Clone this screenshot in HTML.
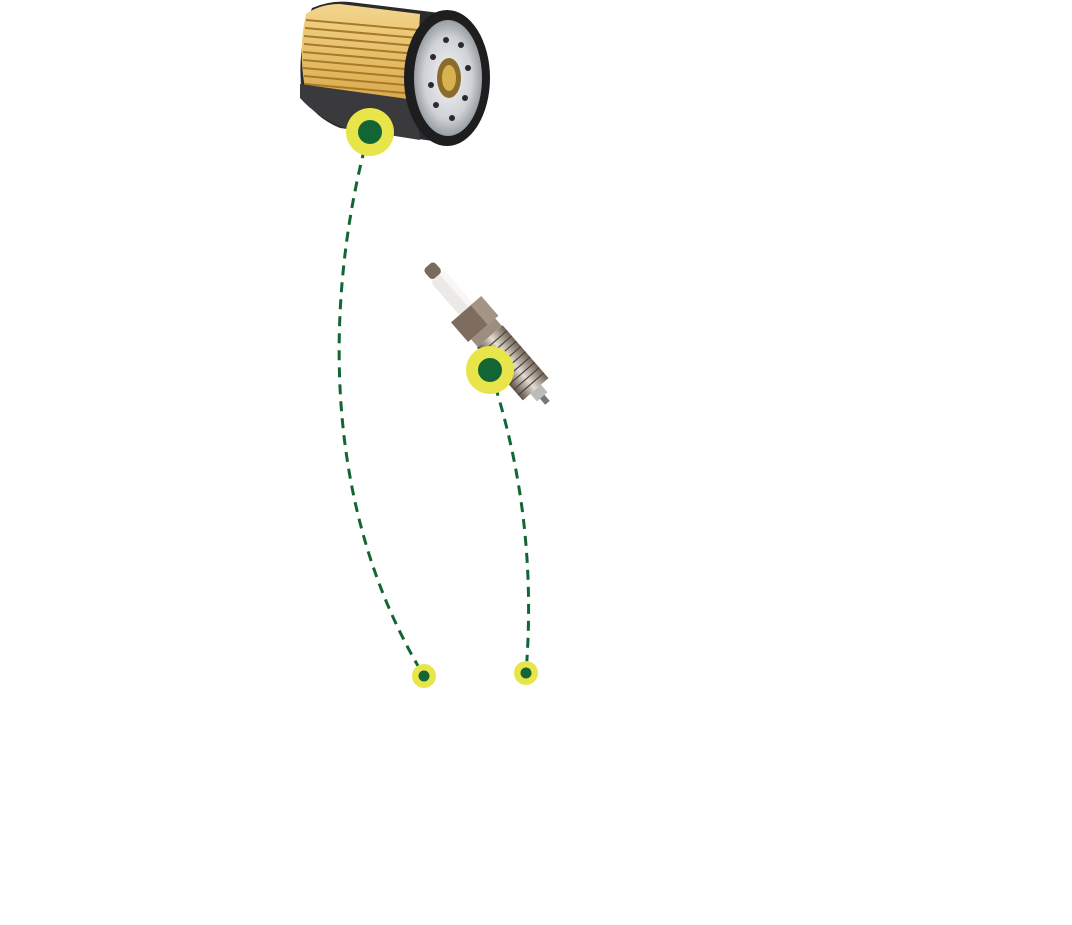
<!DOCTYPE html>
<html><head><style>html,body{margin:0;padding:0;background:#fff;width:1072px;height:925px;overflow:hidden}</style></head>
<body>
<svg width="1072" height="925" viewBox="0 0 1072 925" xmlns="http://www.w3.org/2000/svg">
<defs>
<linearGradient id="fin" x1="0" y1="0" x2="0" y2="1">
<stop offset="0" stop-color="#f3d58c"/><stop offset="1" stop-color="#d9a94a"/></linearGradient>
<radialGradient id="cap" cx="0.5" cy="0.5" r="0.5">
<stop offset="0" stop-color="#f4f4f6"/><stop offset="0.7" stop-color="#cfd2d6"/><stop offset="1" stop-color="#9a9ea3"/></radialGradient>
<linearGradient id="thr" x1="0" y1="0" x2="0" y2="1">
<stop offset="0" stop-color="#6d5f52"/><stop offset="0.5" stop-color="#e4dcd2"/><stop offset="1" stop-color="#5c5046"/></linearGradient>
</defs>
<path d="M312 8 Q330 0 350 2 L448 14 L440 142 L340 128 Q315 118 302 95 Q296 50 312 8Z" fill="#2b2b2d"/>
<path d="M306 14 Q320 4 340 4 L420 14 L415 104 L305 88 Q298 50 306 14Z" fill="url(#fin)"/>
<g stroke="#a87a28" stroke-width="2">
<line x1="306" y1="20" x2="418" y2="30"/><line x1="305" y1="28" x2="418" y2="38"/><line x1="304" y1="36" x2="417" y2="46"/><line x1="304" y1="44" x2="417" y2="54"/><line x1="303" y1="52" x2="417" y2="62"/><line x1="303" y1="60" x2="416" y2="70"/><line x1="303" y1="68" x2="416" y2="78"/><line x1="304" y1="76" x2="416" y2="86"/><line x1="304" y1="84" x2="415" y2="94"/></g>
<path d="M300 84 L415 100 L420 140 L345 128 Q318 118 300 98Z" fill="#3a3a3d"/>
<ellipse cx="447" cy="78" rx="43" ry="68" fill="#1e1e20"/>
<ellipse cx="448" cy="78" rx="34" ry="58" fill="url(#cap)"/>
<ellipse cx="449" cy="78" rx="12" ry="20" fill="#8a6d2d"/>
<ellipse cx="449" cy="78" rx="7" ry="13" fill="#d7b24e"/>
<g fill="#2a2a2e"><circle cx="446" cy="40" r="3"/><circle cx="433" cy="57" r="3"/><circle cx="431" cy="85" r="3"/><circle cx="436" cy="105" r="3"/><circle cx="452" cy="118" r="3"/><circle cx="465" cy="98" r="3"/><circle cx="468" cy="68" r="3"/><circle cx="461" cy="45" r="3"/></g>
<g transform="translate(432,270) rotate(49)">
<rect x="-6" y="-7" width="14" height="14" rx="4" fill="#7a6a5c"/>
<rect x="8" y="-9" width="45" height="18" rx="4" fill="#eceae6"/>
<rect x="8" y="-9" width="45" height="6" fill="#f8f7f5"/>
<rect x="52" y="-20" width="26" height="40" fill="#7e6d5e"/>
<rect x="52" y="-20" width="26" height="14" fill="#a59585"/>
<rect x="78" y="-16" width="10" height="32" fill="#9b8d80"/>
<rect x="88" y="-17" width="70" height="34" fill="url(#thr)"/>
<g stroke="#4d433b" stroke-width="1.2"><line x1="95" y1="-17" x2="95" y2="17"/><line x1="102" y1="-17" x2="102" y2="17"/><line x1="109" y1="-17" x2="109" y2="17"/><line x1="116" y1="-17" x2="116" y2="17"/><line x1="123" y1="-17" x2="123" y2="17"/><line x1="130" y1="-17" x2="130" y2="17"/><line x1="137" y1="-17" x2="137" y2="17"/><line x1="144" y1="-17" x2="144" y2="17"/><line x1="151" y1="-17" x2="151" y2="17"/></g>
<rect x="158" y="-7" width="10" height="14" fill="#bbb"/>
<rect x="168" y="-3" width="8" height="6" fill="#777"/>
</g>
<path d="M369 132 C336 250 305 480 424 676" fill="none" stroke="#136535" stroke-width="3" stroke-dasharray="10 7"/>
<path d="M490 370 C520 460 535 560 526 673" fill="none" stroke="#136535" stroke-width="3" stroke-dasharray="10 7"/>
<circle cx="370" cy="132" r="24" fill="#e8e54a"/><circle cx="370" cy="132" r="12" fill="#136535"/>
<circle cx="490" cy="370" r="24" fill="#e8e54a"/><circle cx="490" cy="370" r="12" fill="#136535"/>
<circle cx="424" cy="676" r="12" fill="#e8e54a"/><circle cx="424" cy="676" r="5.5" fill="#136535"/>
<circle cx="526" cy="673" r="12" fill="#e8e54a"/><circle cx="526" cy="673" r="5.5" fill="#136535"/>
</svg>
</body></html>
